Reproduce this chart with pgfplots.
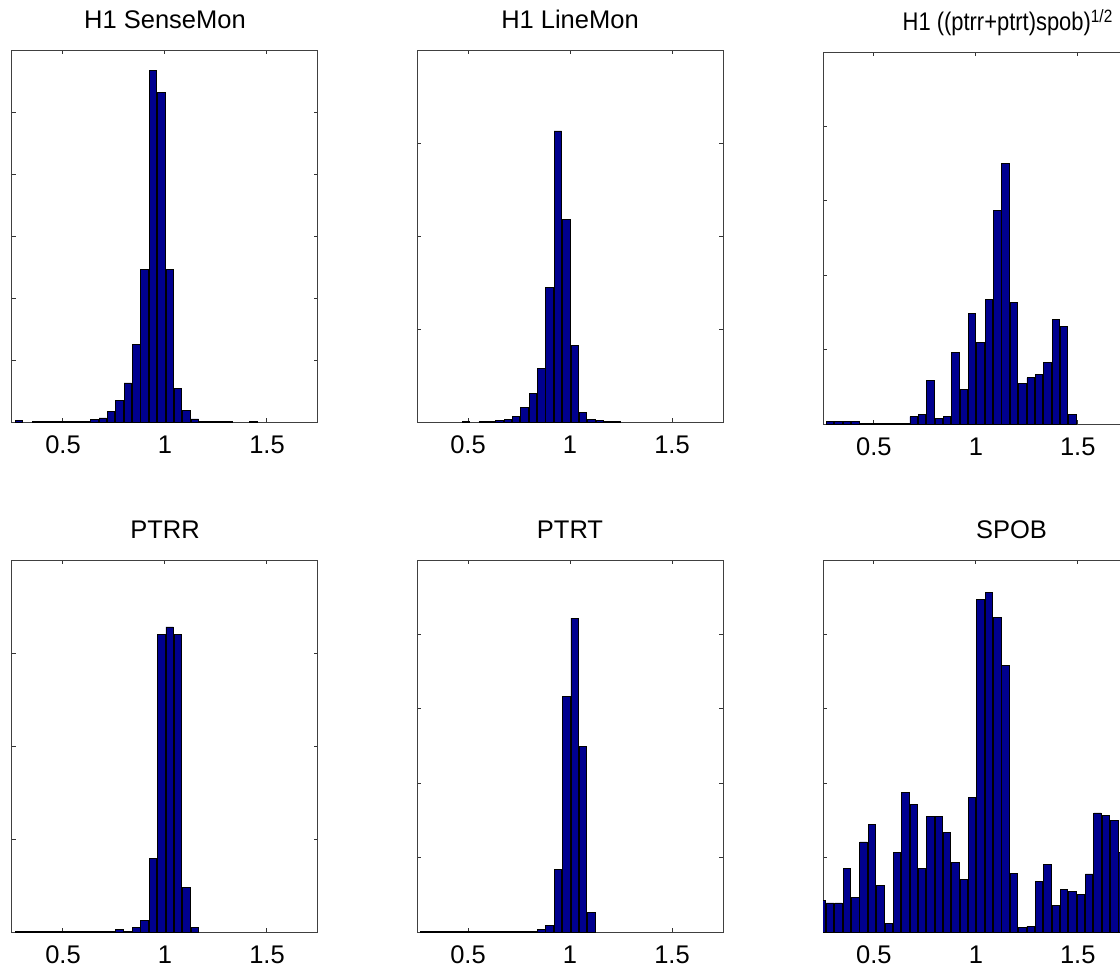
\documentclass[border=0pt]{standalone}
\usepackage{fontspec}
\setmainfont{Liberation Sans}
\usepackage{pgfplots}
\pgfplotsset{compat=1.18}
\definecolor{barblue}{rgb}{0,0,0.56}
\pgfplotsset{
  hpanel/.style={
    scale only axis, anchor=north west,
    width=153pt, height=186pt,
    xmin=0.25, xmax=1.75, ymin=0,
    enlargelimits=false,
    font=\fontsize{12.75}{15}\selectfont,
    /pgf/number format/assume math mode=true,
    xtick={0.5,1,1.5}, xticklabels={0.5,1,1.5},
    yticklabels={},
    xtick pos=both, ytick pos=both,
    tick align=inside, major tick length=1.8pt,
    tick style={black!80, line width=0.5pt},
    axis line style={black!75, line width=0.5pt},
    xticklabel style={yshift=-3.2pt},
    title style={at={(0.5,1)}, anchor=base, yshift=4.6pt, font=\fontsize{12.75}{15}\selectfont},
  },
  hbars/.style={ybar, bar width=0.0365, fill=barblue, draw=black, line width=0.4pt},
}
\begin{document}
\begin{tikzpicture}
% ---------- Row 1 ----------
\begin{axis}[hpanel, at={(6pt,-25pt)}, ymax=6, ytick={1,...,5}, title={H1 SenseMon}]
\addplot[hbars] coordinates {
(0.285,0.02) (0.367,0.015) (0.408,0.015) (0.449,0.01) (0.490,0.005) (0.531,0.005) (0.572,0.005) (0.613,0.005)
(0.654,0.04) (0.695,0.065) (0.736,0.17) (0.777,0.35) (0.818,0.63) (0.859,1.25) (0.900,2.46)
(0.941,5.67) (0.982,5.31) (1.023,2.46) (1.064,0.54) (1.105,0.18) (1.146,0.05) (1.187,0.015)
(1.228,0.01) (1.269,0.01) (1.310,0.01) (1.433,0.015)
};
\end{axis}
\begin{axis}[hpanel, at={(208.5pt,-25pt)}, ymax=4, ytick={1,2,3}, title={H1 LineMon}]
\addplot[hbars] coordinates {
(0.490,0.01) (0.572,0.005) (0.613,0.01) (0.654,0.02) (0.695,0.03) (0.736,0.06) (0.777,0.16)
(0.818,0.31) (0.859,0.58) (0.900,1.45) (0.941,3.13) (0.982,2.18) (1.023,0.82) (1.064,0.10)
(1.105,0.025) (1.146,0.015) (1.187,0.005) (1.228,0.01)
};
\end{axis}
\begin{axis}[hpanel, at={(411.5pt,-26pt)}, width=188.5pt, xmax=2.1, ymax=5, ytick={1,...,4},
  title style={xshift=-1.8pt},
  title={\scalebox{0.86}[1]{H1 ((ptrr+ptrt)spob)\textsuperscript{1/2}}}]
\addplot[hbars] coordinates {
(0.285,0.03) (0.326,0.03) (0.367,0.03) (0.408,0.03) (0.449,0.01) (0.490,0.01) (0.531,0.01)
(0.572,0.01) (0.613,0.01) (0.654,0.01) (0.695,0.10) (0.736,0.13) (0.777,0.58) (0.818,0.08)
(0.859,0.10) (0.900,0.96) (0.941,0.47) (0.982,1.48) (1.023,1.10) (1.064,1.68) (1.105,2.87)
(1.146,3.50) (1.187,1.63) (1.228,0.55) (1.269,0.62) (1.310,0.67) (1.351,0.83) (1.392,1.41)
(1.433,1.31) (1.474,0.13)
};
\end{axis}
% ---------- Row 2 ----------
\begin{axis}[hpanel, at={(6pt,-280pt)}, ymax=4, ytick={1,2,3}, title={PTRR}]
\addplot[hbars] coordinates {
(0.285,0.01) (0.326,0.01) (0.367,0.01) (0.408,0.01) (0.449,0.003) (0.490,0.003) (0.531,0.003)
(0.572,0.003) (0.613,0.003) (0.654,0.003) (0.695,0.003) (0.736,0.003) (0.777,0.025) (0.818,0.01)
(0.859,0.05) (0.900,0.12) (0.941,0.79) (0.982,3.20) (1.023,3.28) (1.064,3.20) (1.105,0.48)
(1.146,0.05)
};
\end{axis}
\begin{axis}[hpanel, at={(208.5pt,-280pt)}, ymax=5, ytick={1,...,4}, title={PTRT}]
\addplot[hbars] coordinates {
(0.285,0.01) (0.326,0.01) (0.367,0.01) (0.408,0.01) (0.449,0.01) (0.490,0.01) (0.531,0.01)
(0.572,0.01) (0.613,0.01) (0.654,0.01) (0.695,0.003) (0.736,0.003) (0.777,0.003) (0.818,0.003)
(0.859,0.035) (0.900,0.09) (0.941,0.84) (0.982,3.17) (1.023,4.22) (1.064,2.50) (1.105,0.26)
};
\end{axis}
\begin{axis}[hpanel, at={(411.5pt,-280pt)}, width=188.5pt, xmax=2.1, ymax=5, ytick={1,...,4}, title={SPOB}]
\addplot[hbars] coordinates {
(0.244,0.43) (0.285,0.39) (0.326,0.39) (0.367,0.85) (0.408,0.47) (0.449,1.21) (0.490,1.45)
(0.531,0.63) (0.572,0.11) (0.613,1.07) (0.654,1.87) (0.695,1.71) (0.736,0.85) (0.777,1.55)
(0.818,1.55) (0.859,1.34) (0.900,0.93) (0.941,0.71) (0.982,1.81) (1.023,4.47) (1.064,4.57)
(1.105,4.23) (1.146,3.58) (1.187,0.79) (1.228,0.06) (1.269,0.08) (1.310,0.68) (1.351,0.91)
(1.392,0.36) (1.433,0.57) (1.474,0.55) (1.515,0.50) (1.556,0.78) (1.597,1.60) (1.638,1.57)
(1.679,1.50) (1.720,1.07)
};
\end{axis}
\pgfresetboundingbox
\useasboundingbox (0pt,0pt) rectangle (560pt,-485pt);
\end{tikzpicture}
\end{document}
